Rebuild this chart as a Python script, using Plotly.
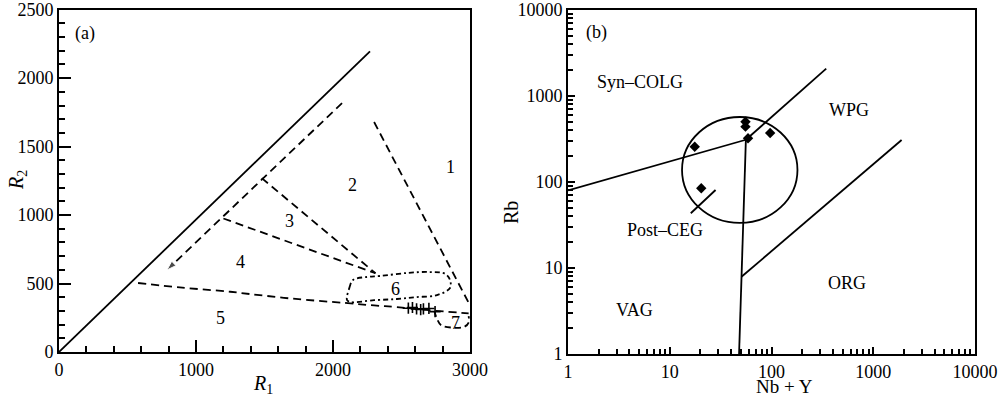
import plotly.graph_objects as go

# ---------------- Panel (a): R1-R2 diagram ----------------
diag_r1 = [0, 2270]
diag_r2 = [0, 2195]

arrow_r1 = [2066, 788]
arrow_r2 = [1818, 599]

b32_r1 = [1480, 2310]
b32_r2 = [1270, 575]

b43_r1 = [1200, 2310]
b43_r2 = [975, 575]

b12_r1 = [2300, 2990]
b12_r2 = [1680, 360]

b5_r1 = [577, 900, 1250, 1394, 1700, 2088, 2300, 2467, 2700, 2990]
b5_r2 = [504, 470, 440, 423, 390, 358, 340, 328, 305, 282]

f6_r1 = [2102, 2120, 2146, 2250, 2343, 2550, 2708, 2820, 2854, 2854, 2759, 2600, 2467, 2300, 2124, 2102]
f6_r2 = [380, 470, 526, 548, 555, 578, 584, 570, 526, 467, 416, 400, 387, 378, 365, 380]

f7_r1 = [2740, 2760, 2790, 2870, 2960, 2990, 2990]
f7_r2 = [300, 240, 195, 178, 185, 215, 262]

samples_r1 = [2550, 2580, 2610, 2640, 2660, 2700, 2745]
samples_r2 = [320, 325, 315, 310, 315, 318, 295]

# ---------------- Panel (b): Rb vs Nb+Y ----------------
colg_nby = [1, 56]
colg_rb = [80, 310]

wpg_nby = [56, 345]
wpg_rb = [310, 2080]

vag_nby = [56, 48]
vag_rb = [310, 1]

org_nby = [50.7, 1900]
org_rb = [7.9, 308]

pceg_nby = [28.2, 16.1]
pceg_rb = [80.7, 43.3]

pts_nby = [17.6, 20.4, 55.5, 55.5, 58.8, 97]
pts_rb = [257, 84.5, 502, 440, 322, 372]

circle_nby = [13.2, 180]
circle_rb = [33.4, 570]

LW = 1.8
DASH = "8px,5px"

fig = go.Figure()


def line(x, y, dash="solid", xa="x", ya="y", width=LW):
    fig.add_trace(go.Scatter(x=x, y=y, mode="lines", xaxis=xa, yaxis=ya,
                             line=dict(color="black", width=width, dash=dash),
                             hoverinfo="skip", showlegend=False))


line(diag_r1, diag_r2)
fig.add_trace(go.Scatter(x=arrow_r1, y=arrow_r2, mode="lines+markers",
                         line=dict(color="black", width=LW, dash=DASH),
                         marker=dict(symbol="arrow", size=[0, 10], angleref="previous",
                                     color="black"),
                         showlegend=False, hoverinfo="skip"))
line(b32_r1, b32_r2, DASH)
line(b43_r1, b43_r2, DASH)
line(b12_r1, b12_r2, DASH)
fig.add_trace(go.Scatter(x=b5_r1, y=b5_r2, mode="lines", line_shape="spline",
                         line=dict(color="black", width=LW, dash=DASH),
                         showlegend=False, hoverinfo="skip"))
fig.add_trace(go.Scatter(x=f6_r1, y=f6_r2, mode="lines", line_shape="spline",
                         line=dict(color="black", width=LW, dash="5px,3px,2px,3px"),
                         showlegend=False, hoverinfo="skip"))
fig.add_trace(go.Scatter(x=f7_r1, y=f7_r2, mode="lines", line_shape="spline",
                         line=dict(color="black", width=LW, dash="6px,4px"),
                         showlegend=False, hoverinfo="skip"))
fig.add_trace(go.Scatter(x=samples_r1, y=samples_r2, mode="markers",
                         marker=dict(symbol="cross-thin", size=8,
                                     line=dict(color="black", width=1.6)),
                         showlegend=False, hoverinfo="skip"))

# Panel (b)
line(colg_nby, colg_rb, xa="x2", ya="y2")
line(wpg_nby, wpg_rb, xa="x2", ya="y2")
line(vag_nby, vag_rb, xa="x2", ya="y2")
line(org_nby, org_rb, xa="x2", ya="y2")
line(pceg_nby, pceg_rb, xa="x2", ya="y2")
fig.add_trace(go.Scatter(x=pts_nby, y=pts_rb, mode="markers", xaxis="x2", yaxis="y2",
                         marker=dict(symbol="diamond", size=8, color="black"),
                         showlegend=False, hoverinfo="skip"))
fig.add_shape(type="circle", xref="x2", yref="y2",
              x0=circle_nby[0], x1=circle_nby[1], y0=circle_rb[0], y1=circle_rb[1],
              line=dict(color="black", width=LW))

FONT = "Liberation Serif, Times New Roman, serif"
tickfont = dict(family=FONT, size=18, color="black")

axis_common = dict(showline=True, linecolor="black", linewidth=2, mirror=True,
                   ticks="inside", tickcolor="black", tickwidth=1.5, ticklen=12,
                   showgrid=False, zeroline=False, tickfont=tickfont, automargin=False)

dec_minor = [m * 10 ** k for k in range(4) for m in range(2, 10)]

fig.update_layout(
    template="none",
    width=1000, height=397,
    margin=dict(l=0, r=0, t=0, b=0, autoexpand=False),
    paper_bgcolor="white", plot_bgcolor="white",
    xaxis=dict(domain=[0.059, 0.470], range=[0, 3000], tickvals=[0, 1000, 2000, 3000],
               minor=dict(dtick=200, ticks="inside", ticklen=6, tickcolor="black"),
               anchor="y", **axis_common),
    yaxis=dict(domain=[0.1134, 0.9755], range=[0, 2500],
               tickvals=[0, 500, 1000, 1500, 2000, 2500],
               minor=dict(dtick=100, ticks="inside", ticklen=6, tickcolor="black"),
               anchor="x", **axis_common),
    xaxis2=dict(domain=[0.568, 0.975], type="log", range=[0, 4],
                tickvals=[1, 10, 100, 1000, 10000],
                ticktext=["1", "10", "100", "1000", "10000"],
                minor=dict(tickmode="array", tickvals=dec_minor, ticks="inside",
                           ticklen=5, tickcolor="black"),
                anchor="y2", **dict(axis_common, ticklen=7)),
    yaxis2=dict(domain=[0.1083, 0.9748], type="log", range=[0, 4],
                tickvals=[1, 10, 100, 1000, 10000],
                ticktext=["1", "10", "100", "1000", "10000"],
                minor=dict(tickmode="array", tickvals=dec_minor, ticks="inside",
                           ticklen=5, tickcolor="black"),
                anchor="x2", **dict(axis_common, ticklen=7)),
)


def ann(text, x, y, xref="x", yref="y", size=18, angle=0):
    fig.add_annotation(text=text, x=x, y=y, xref=xref, yref=yref, showarrow=False,
                       xanchor="center", yanchor="middle",
                       font=dict(family=FONT, size=size, color="black"), textangle=angle)


# panel (a) labels
ann("(a)", 190, 2328)
ann("1", 2854, 1350)
ann("2", 2139, 1219)
ann("3", 1686, 956)
ann("4", 1328, 657)
ann("5", 1182, 248)
ann("6", 2453, 460)
ann("7", 2891, 212)

# panel (b) labels (log coords)
ann("(b)", 0.281, 3.733, "x2", "y2")
ann("Syn\u2013COLG", 0.711, 3.163, "x2", "y2")
ann("WPG", 2.763, 2.837, "x2", "y2")
ann("Post\u2013CEG", 0.955, 1.442, "x2", "y2")
ann("VAG", 0.652, 0.512, "x2", "y2")
ann("ORG", 2.743, 0.826, "x2", "y2")

# axis titles
ann("<i>R</i><sub>1</sub>", 0.263, 1 - 384 / 397, "paper", "paper", size=20)
ann("<i>R</i><sub>2</sub>", 0.017, 1 - 180 / 397, "paper", "paper", size=20, angle=-90)
ann("Rb", 0.511, 1 - 213 / 397, "paper", "paper", size=20, angle=-90)
ann("Nb + Y", 0.784, 1 - 386.5 / 397, "paper", "paper", size=19)

fig.write_html("out.html",
               config={"displayModeBar": False},
               post_script="document.body.style.margin='0';"
                           "document.body.style.overflow='hidden';")
